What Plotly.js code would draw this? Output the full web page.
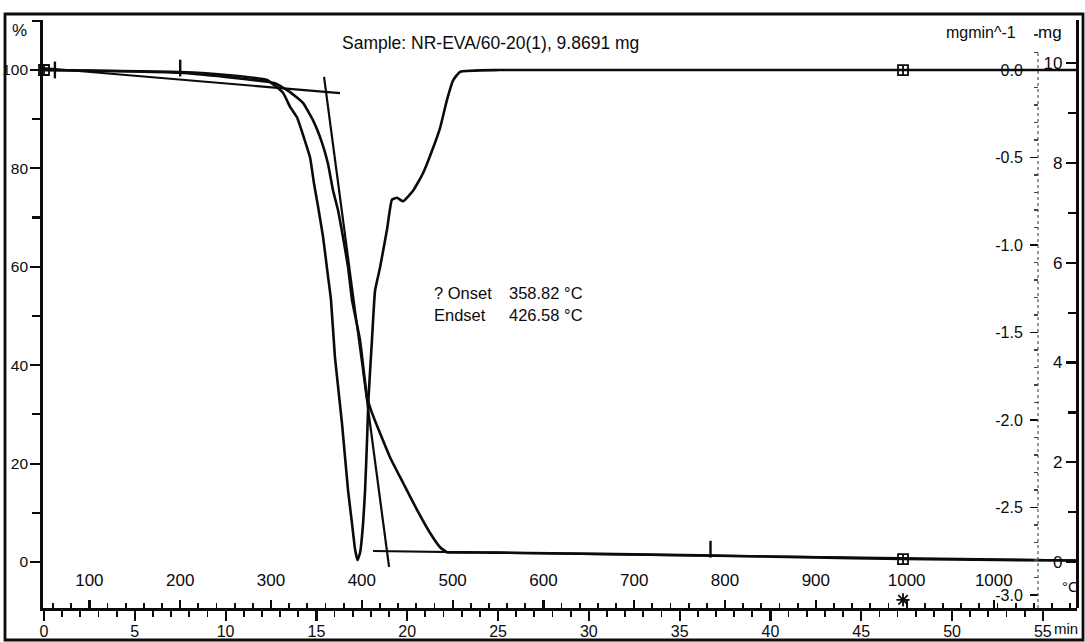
<!DOCTYPE html>
<html>
<head>
<meta charset="utf-8">
<script src="https://cdn.plot.ly/plotly-3.0.1.min.js"></script>
<style>
  html, body { margin: 0; padding: 0; background: #fff; }
  #chart { width: 1085px; height: 642px; }
</style>
</head>
<body>
<div id="chart"></div>
<script>
// TGA run: NR-EVA/60-20(1), 9.8691 mg, 20 °C/min from 50 °C to 1000 °C, then isothermal.

// Mass curve (TG), time in min vs. residual mass in %
const tgTime = [0, 2, 5, 7.5, 10, 12.3, 12.72, 13.55, 14.26, 14.81, 15.31, 15.64, 15.91, 16.19,
  16.46, 16.74, 16.96, 17.40, 17.79, 18.06, 18.50, 19.05, 19.77, 20.54, 21.26, 21.81, 22.19,
  22.9, 25.1, 30.6, 36.1, 41.6, 47.3, 52.6, 56.88];
const tgPct = [100.0, 99.9, 99.7, 99.45, 98.6, 97.6, 97.3, 95.5, 93.3, 89.8, 85.2, 80.9, 75.6, 71.5,
  66.1, 60.0, 53.3, 45.1, 33.5, 30.3, 26.2, 21.3, 16.1, 10.6, 5.9, 3.0, 2.0,
  1.95, 1.9, 1.65, 1.35, 1.0, 0.6, 0.4, 0.3];

// Derivative curve (DTG), time in min vs. mass-loss rate in mg/min
const dtgTime = [0, 7.49, 10.24, 12.28, 12.72, 13.16, 13.55, 13.93, 14.26, 14.65, 14.87, 15.09,
  15.36, 15.64, 15.80, 16.02, 16.41, 16.74, 16.96, 17.13, 17.26, 17.40, 17.57, 17.68, 17.79,
  17.87, 18.06, 18.23, 18.50, 18.89, 19.16, 19.44, 19.77, 20.32, 20.87, 21.37, 21.81, 22.19,
  22.52, 22.91, 25.1, 35, 45, 56.88];
const dtgRate = [0, -0.011, -0.03, -0.057, -0.09, -0.13, -0.21, -0.27, -0.37, -0.50, -0.65, -0.78,
  -0.95, -1.18, -1.31, -1.64, -2.02, -2.40, -2.59, -2.74, -2.80, -2.76, -2.59, -2.40, -2.11,
  -1.87, -1.54, -1.26, -1.13, -0.91, -0.74, -0.73, -0.75, -0.69, -0.59, -0.46, -0.33, -0.17,
  -0.06, -0.01, 0, 0, 0, 0];

// Onset / endset construction lines (time, %)
const baseTangentTime = [-0.05, 16.3];
const baseTangentPct = [100.4, 95.3];
const slopeTangentTime = [15.42, 19.0];
const slopeTangentPct = [98.6, -1.0];
const residueLineTime = [18.12, 56.88];
const residueLinePct = [2.24, 0.3];

// Evaluation cursors
const cursorTime = [0, 47.3];
const cursorPct = [100, 0.6];
const dtgCursorTime = [47.3];
const dtgCursorRate = [0];
const flagTime = [0.6, 7.5, 36.7];
const flagPct = [100, 100.4, 2.6];
const endMarkTime = [47.3];
const endMarkPct = [-7.7];

// Axis ticks
const pctTicks = [0, 20, 40, 60, 80, 100];
const dtgTickVals = [0, -0.5, -1.0, -1.5, -2.0, -2.5, -3.0];
const dtgTickText = ['0.0', '-0.5', '-1.0', '-1.5', '-2.0', '-2.5', '-3.0'];
const mgTicks = [0, 2, 4, 6, 8, 10];
const tempTickTime = [2.5, 7.5, 12.5, 17.5, 22.5, 27.5, 32.5, 37.5, 42.5, 47.5, 52.3];
const tempTickText = ['100', '200', '300', '400', '500', '600', '700', '800', '900', '1000', '1000'];

// Onset / endset readout
const onsetLabels = ['? Onset', 'Endset'];
const onsetValues = ['358.82 °C', '426.58 °C'];

const INK = '#0b0b0b';
const FONT = 'Liberation Sans, Arial, Helvetica, sans-serif';
const tRange = [-0.055, 56.88];

const line = (x, y, extra) => Object.assign({
  type: 'scatter', mode: 'lines', x: x, y: y,
  line: { color: INK, width: 2 }, hoverinfo: 'skip', cliponaxis: false
}, extra || {});

const traces = [
  line(tgTime, tgPct, { line: { color: INK, width: 2.6, shape: 'spline', smoothing: 0.4 } }),
  line(dtgTime, dtgRate, { yaxis: 'y2', line: { color: INK, width: 2.6, shape: 'spline', smoothing: 0.4 } }),
  line(baseTangentTime, baseTangentPct, { line: { color: INK, width: 2.2 } }),
  line(slopeTangentTime, slopeTangentPct, { line: { color: INK, width: 2.2 } }),
  line(residueLineTime, residueLinePct, { line: { color: INK, width: 2.2 } }),
  { type: 'scatter', mode: 'markers', x: cursorTime, y: cursorPct, xaxis: 'x2', cliponaxis: false,
    marker: { symbol: 'square-cross-open', size: 10, color: INK, line: { width: 1.8, color: INK } }, hoverinfo: 'skip' },
  { type: 'scatter', mode: 'markers', x: dtgCursorTime, y: dtgCursorRate, yaxis: 'y2', cliponaxis: false,
    marker: { symbol: 'square-cross-open', size: 10, color: INK, line: { width: 1.8, color: INK } }, hoverinfo: 'skip' },
  { type: 'scatter', mode: 'markers', x: flagTime, y: flagPct, xaxis: 'x3', cliponaxis: false,
    marker: { symbol: 'line-ns-open', size: 12, color: INK, line: { width: 2.4, color: INK } }, hoverinfo: 'skip' },
  { type: 'scatter', mode: 'markers', x: endMarkTime, y: endMarkPct, cliponaxis: false,
    marker: { symbol: 'asterisk-open', size: 11, color: INK, line: { width: 1.8, color: INK } }, hoverinfo: 'skip' },
  { type: 'scatter', mode: 'lines', x: [], y: [], yaxis: 'y3', hoverinfo: 'skip' }
];

// pixel helpers for placing text in paper coordinates
const PL = 43, PR = 1077, PT = 20, PB = 608;
const px = (x) => (x - PL) / (PR - PL);
const py = (y) => (PB - y) / (PB - PT);

const txt = (x, y, text, anchor, size) => ({
  xref: 'paper', yref: 'paper', x: px(x), y: py(y), text: text, showarrow: false,
  xanchor: anchor || 'left', yanchor: 'middle', font: { family: FONT, size: size || 16, color: INK }
});

const annotations = [
  txt(490, 43, 'Sample: NR-EVA/60-20(1), 9.8691 mg', 'center', 17.5),
  txt(19, 30, '%', 'center', 17),
  txt(981, 32, 'mgmin^-1', 'center', 16),
  txt(1050, 32, 'mg', 'center', 17),
  txt(1080, 628, 'min', 'right', 15),
  txt(1081, 586, '°C', 'right', 15)
];
onsetLabels.forEach((s, i) => annotations.push(txt(432, 293 + i * 22, s, 'left', 16.5)));
onsetValues.forEach((s, i) => annotations.push(txt(507, 293 + i * 22, s, 'left', 16.5)));

const tickFont = { family: FONT, size: 17, color: INK };

const layout = {
  width: 1085, height: 642,
  margin: { l: PL, r: 1085 - PR, t: PT, b: 642 - PB, pad: 0 },
  paper_bgcolor: '#fff', plot_bgcolor: '#fff',
  showlegend: false,
  font: { family: FONT, size: 16, color: INK },
  xaxis: {
    range: tRange, tickmode: 'linear', tick0: 0, dtick: 5,
    ticks: 'outside', ticklen: 10, tickwidth: 2.2, tickcolor: INK,
    ticklabelstandoff: -3,
    showline: true, linewidth: 2.8, linecolor: INK, mirror: false,
    showgrid: false, zeroline: false, tickfont: { family: FONT, size: 16, color: INK },
    minor: { tick0: 0, dtick: 1, ticks: 'outside', ticklen: 6, tickwidth: 1.8, tickcolor: INK, showgrid: false }
  },
  xaxis2: {
    overlaying: 'x', anchor: 'y', side: 'bottom', range: tRange,
    tickmode: 'array', tickvals: tempTickTime, ticktext: tempTickText,
    ticks: 'inside', ticklen: 8, tickwidth: 2.2, tickcolor: INK,
    ticklabelposition: 'inside', ticklabelstandoff: 11,
    showline: false, showgrid: false, zeroline: false, tickfont: tickFont
  },
  xaxis3: {
    overlaying: 'x', anchor: 'y', side: 'bottom', range: tRange,
    tickmode: 'linear', tick0: 0.5, dtick: 1,
    ticks: 'inside', ticklen: 5, tickwidth: 1.8, tickcolor: INK,
    showticklabels: false, showline: false, showgrid: false, zeroline: false
  },
  yaxis: {
    range: [-9.35, 110.16], tickmode: 'array', tickvals: pctTicks,
    ticks: 'outside', ticklen: 10, tickwidth: 2.2, tickcolor: INK,
    ticklabelstandoff: -1,
    showline: true, linewidth: 2.8, linecolor: INK,
    showgrid: false, zeroline: false, tickfont: { family: FONT, size: 15.5, color: INK },
    minor: { tick0: 0, dtick: 10, ticks: 'outside', ticklen: 8, tickwidth: 2.2, tickcolor: INK, showgrid: false }
  },
  yaxis2: {
    overlaying: 'y', anchor: 'free', position: px(1038), side: 'left',
    range: [-3.074, 0.286], tickmode: 'array', tickvals: dtgTickVals, ticktext: dtgTickText,
    ticks: 'outside', ticklen: 8, tickwidth: 1.6, tickcolor: INK, ticklabelstandoff: 4,
    showline: false, showgrid: false, zeroline: false, tickfont: { family: FONT, size: 16, color: INK },
    minor: { tick0: 0, dtick: 0.1, ticks: 'outside', ticklen: 4, tickwidth: 1.2, tickcolor: '#444', showgrid: false }
  },
  yaxis3: {
    overlaying: 'y', anchor: 'free', position: 1, side: 'right',
    range: [-0.923, 10.87], tickmode: 'array', tickvals: mgTicks,
    ticks: 'inside', ticklen: 10, tickwidth: 2.2, tickcolor: INK,
    ticklabelposition: 'inside', ticklabelstandoff: 4,
    showline: true, linewidth: 2.8, linecolor: INK,
    showgrid: false, zeroline: false, tickfont: tickFont,
    minor: { tick0: 0, dtick: 1, ticks: 'inside', ticklen: 8, tickwidth: 2.2, tickcolor: INK, showgrid: false }
  },
  shapes: [
    // outer frame of the printout
    { type: 'rect', xref: 'paper', yref: 'paper', x0: px(5), x1: px(1083), y0: py(640), y1: py(14),
      line: { color: INK, width: 2.8 }, fillcolor: 'rgba(0,0,0,0)', layer: 'above' },
    // dotted spine of the rate scale
    { type: 'line', xref: 'paper', yref: 'paper', x0: px(1038), x1: px(1038), y0: 0, y1: py(50),
      line: { color: '#555', width: 1.2, dash: 'dot' } }
  ],
  annotations: annotations
};

Plotly.newPlot('chart', traces, layout, { displayModeBar: false, staticPlot: true });
</script>
</body>
</html>
